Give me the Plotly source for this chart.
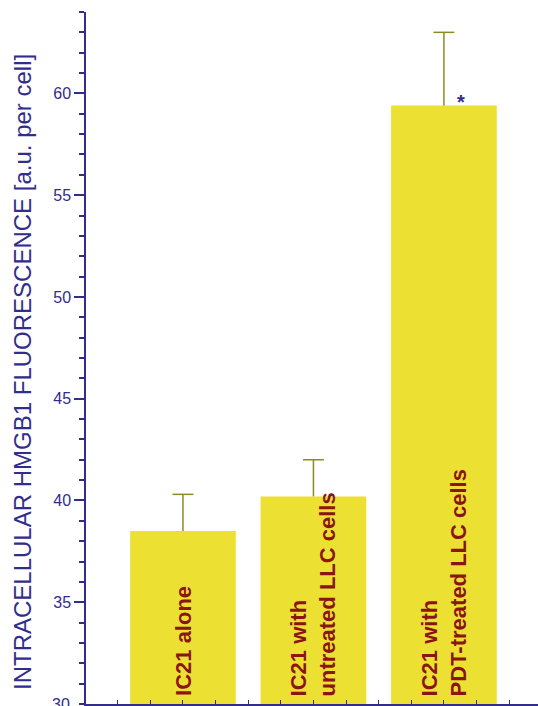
import plotly.graph_objects as go

categories = ["IC21 alone", "IC21 with<br>untreated LLC cells", "IC21 with<br>PDT-treated LLC cells"]
means = [38.5, 40.2, 59.4]
errors_upper = [1.8, 1.8, 3.6]
significance = ["", "", "*"]
y_tick_values = [30, 35, 40, 45, 50, 55, 60]
y_title = "INTRACELLULAR HMGB1 FLUORESCENCE [a.u. per cell]"

AXIS = "#322C8C"
BAR = "#ECE133"
TXT = "#8B1414"
ERR = "#8C8C1E"
FONT = "Arial, Liberation Sans, sans-serif"
Y0 = 30
CAP = 0.08

x_idx = list(range(len(categories)))

fig = go.Figure()
fig.add_trace(go.Bar(
    x=x_idx, y=[m - Y0 for m in means], base=Y0,
    width=0.81,
    marker=dict(color=BAR, line=dict(width=0)),
    hoverinfo="skip",
))

# upper error bars (stem + cap) built from the data arrays
ex, ey = [], []
for i, m, e in zip(x_idx, means, errors_upper):
    ex += [i, i, None, i - CAP, i + CAP, None]
    ey += [m, m + e, None, m + e, m + e, None]
fig.add_trace(go.Scatter(x=ex, y=ey, mode="lines",
                         line=dict(color=ERR, width=1.5), hoverinfo="skip"))

for i, lab in enumerate(categories):
    fig.add_annotation(x=x_idx[i], y=Y0, xref="x", yref="y", text="<b>" + lab + "</b>",
                       textangle=-90, showarrow=False, align="left",
                       xanchor="center", yanchor="bottom", borderpad=0, yshift=7,
                       font=dict(family=FONT, size=22, color=TXT))
    if significance[i]:
        fig.add_annotation(x=x_idx[i] + 0.13, y=means[i], xref="x", yref="y",
                           text="<b>" + significance[i] + "</b>", showarrow=False,
                           xanchor="center", yanchor="bottom", borderpad=0, yshift=-8,
                           font=dict(family=FONT, size=20, color=AXIS))

# bottom tick label (drawn as annotation so it is not dropped at the figure edge)
fig.add_annotation(x=0, y=y_tick_values[0], xref="paper", yref="y", text=str(y_tick_values[0]),
                   showarrow=False, xanchor="right", yanchor="middle", xshift=-15,
                   borderpad=0, font=dict(family=FONT, size=16, color=AXIS))

# y-axis title
fig.add_annotation(x=0, y=0.5, xref="paper", yref="paper", text=y_title,
                   textangle=-90, showarrow=False, xanchor="center", yanchor="middle",
                   xshift=-64, yshift=-14, borderpad=0,
                   font=dict(family=FONT, size=24, color=AXIS))

fig.update_layout(
    width=538, height=706,
    margin=dict(l=86, r=0, t=12, b=2),
    paper_bgcolor="white", plot_bgcolor="white",
    showlegend=False,
    font=dict(family=FONT, color=AXIS),
)
fig.update_xaxes(
    range=[-0.743, 2.721], showgrid=False, zeroline=False,
    showline=True, linecolor=AXIS, linewidth=1.5,
    showticklabels=False, ticks="inside", ticklen=4, tickcolor=AXIS, tickwidth=1,
    tick0=0, dtick=0.25,
)
fig.update_yaxes(
    range=[30, 64], showgrid=False, zeroline=False,
    showline=True, linecolor=AXIS, linewidth=1.5,
    tickvals=y_tick_values[1:], ticks="outside", ticklen=10, tickwidth=1.5, tickcolor=AXIS,
    tickfont=dict(family=FONT, size=16, color=AXIS),
    minor=dict(dtick=1, tick0=30, ticks="outside", ticklen=5, tickwidth=1.5, tickcolor=AXIS, showgrid=False),
)

fig.write_html("out.html")
